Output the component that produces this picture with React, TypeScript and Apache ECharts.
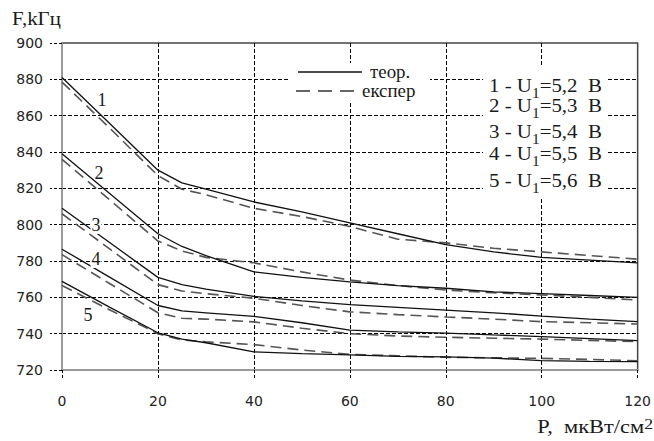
import { useEffect, useRef } from 'react';
import * as echarts from 'echarts';

// Power density, мкВт/см²
const P = [0, 10, 20, 25, 30, 40, 50, 60, 70, 80, 90, 100, 110, 120];

// Frequency, kГц — theoretical (solid) and experimental (dashed)
const theor1 = [881, 855.5, 830, 823, 819.5, 812.5, 807, 801, 795, 789, 785, 782, 780.5, 779];
const exper1 = [878.5, 853, 827, 819.5, 816.5, 809, 804.5, 799, 792, 790, 787, 785, 783, 781];
const theor2 = [839, 817, 795, 788, 783, 774, 771, 768.5, 766.5, 765, 763, 762, 761, 760];
const exper2 = [836, 813.5, 791, 785.5, 782, 779, 774, 769.5, 766.5, 764, 762.5, 761.3, 760, 758.5];
const theor3 = [809, 790, 771, 767, 764.5, 760.5, 758, 756, 754.5, 753, 751.5, 749.7, 748, 746.6];
const exper3 = [806, 786.5, 767, 763.5, 762, 759.5, 755.5, 752, 750.5, 749.2, 748, 746.6, 746, 745.3];
const theor4 = [786.5, 771, 755.5, 752.5, 751.5, 749.5, 746, 742, 741, 740.3, 739.3, 738.4, 737.3, 736.2];
const exper4 = [783.5, 767.5, 751.5, 748.5, 748, 746.5, 743, 740, 738.7, 738, 737.5, 737, 736.3, 735.6];
const theor5 = [768.8, 754.5, 740.5, 737, 735, 730, 729, 728.3, 727.5, 727.2, 726.5, 725.2, 724.8, 724.6];
const exper5 = [766.5, 753, 740, 736.5, 735.5, 734, 731, 728.6, 727.8, 727, 726.7, 726.4, 725.8, 725.1];

const theorSeries = [theor1, theor2, theor3, theor4, theor5];
const experSeries = [exper1, exper2, exper3, exper4, exper5];

const curveNames = ['1', '2', '3', '4', '5'];
const legendLines = ['5,2', '5,3', '5,4', '5,5', '5,6'];

const SERIF = 'Liberation Serif';
const INK = '#1a1a1a';

export default function App() {
  const ref = useRef<HTMLDivElement>(null);

  useEffect(() => {
    document.body.style.margin = '0';
    if (!ref.current) return;
    const chart = echarts.init(ref.current, null, { renderer: 'svg' });

    const series: any[] = [];
    theorSeries.forEach((arr, k) => {
      series.push({
        type: 'line',
        name: 'теор. ' + curveNames[k],
        data: P.map((p, i) => [p, arr[i]]),
        symbol: 'none',
        lineStyle: { color: '#111', width: 1.3, type: 'solid' },
        z: 3,
      });
    });
    experSeries.forEach((arr, k) => {
      series.push({
        type: 'line',
        name: 'експер ' + curveNames[k],
        data: P.map((p, i) => [p, arr[i]]),
        symbol: 'none',
        lineStyle: { color: '#555', width: 1.6, type: [11, 6] },
        z: 2,
      });
    });

    const labelPx = [
      [102, 100],
      [99, 173],
      [96, 225],
      [96, 259],
      [88, 315],
    ];

    const txt = (extra: any) => ({ fontFamily: SERIF, fontSize: 19, fill: INK, ...extra });
    const stretched = (x: number, y: number, sx: number, style: any, z = 101) => ({
      type: 'group', x, y, scaleX: sx, z,
      children: [{ type: 'text', x: 0, y: 0, z, style }],
    });

    const graphic: any[] = [
      // y axis name
      stretched(12, 18, 1.1, txt({ text: 'F,kГц', verticalAlign: 'middle' })),
      // x axis name
      stretched(653, 426, 1.18, txt({
        text: 'P,  мкВт/см{sup|2}',
        align: 'right', verticalAlign: 'middle',
        rich: {
          sup: { fontFamily: SERIF, fontSize: 15, fill: INK, verticalAlign: 'top', lineHeight: 12 },
        },
      })),
      // legend 1 box
      { type: 'rect', shape: { x: 288, y: 63, width: 142, height: 39 }, style: { fill: '#fff' }, z: 100 },
      { type: 'line', shape: { x1: 298, y1: 72, x2: 362, y2: 72 }, style: { stroke: '#111', lineWidth: 1.3 }, z: 101 },
      stretched(370, 72, 1.05, txt({ text: 'теор.', fontSize: 18, verticalAlign: 'middle' })),
      { type: 'line', shape: { x1: 296, y1: 91, x2: 362, y2: 91 }, style: { stroke: '#333', lineWidth: 1.6, lineDash: [14, 8] }, z: 101 },
      stretched(362, 91, 1.05, txt({ text: 'експер', fontSize: 18, verticalAlign: 'middle' })),
      // legend 2 box
      { type: 'rect', shape: { x: 483, y: 67, width: 124, height: 131 }, style: { fill: '#fff' }, z: 100 },
    ];

    const legendY = [85, 105.5, 131, 153, 180];
    legendLines.forEach((v, k) => {
      graphic.push(stretched(489, legendY[k] - 15, 1.1, {
        text: `{m|${curveNames[k]} - U}{s|1}{m|=${v}  В}`,
        fill: INK,
        rich: {
          m: { fontFamily: SERIF, fontSize: 19, fill: INK, lineHeight: 30, verticalAlign: 'middle' },
          s: { fontFamily: SERIF, fontSize: 14, fill: INK, lineHeight: 12, verticalAlign: 'bottom' },
        },
      }));
    });

    labelPx.forEach(([x, y], k) => {
      graphic.push({
        type: 'text', x, y, z: 101,
        style: txt({
          text: curveNames[k], fontSize: 18,
          align: 'center', verticalAlign: 'middle',
          backgroundColor: k === 2 || k === 3 ? '#fff' : 'transparent',
          padding: [0, 1],
        }),
      });
    });

    chart.setOption({
      animation: false,
      backgroundColor: '#fff',
      grid: {
        left: 62, right: 13, top: 43, bottom: 71,
        show: true, borderColor: '#444', borderWidth: 1.5, backgroundColor: 'transparent',
      },
      xAxis: {
        type: 'value', min: 0, max: 120, interval: 20,
        axisLine: { show: true, lineStyle: { color: '#9a9a9a', width: 2 } },
        axisTick: { show: true, length: 8, lineStyle: { color: '#000', type: [3, 2] } },
        axisLabel: { margin: 24, fontFamily: 'DejaVu Sans', fontSize: 14, color: '#222' },
        splitLine: {
          show: true, showMinLine: false, showMaxLine: false,
          lineStyle: { color: '#000', type: [4, 2], width: 1 },
        },
      },
      yAxis: {
        type: 'value', min: 720, max: 900, interval: 20,
        axisLine: { show: true, lineStyle: { color: '#9a9a9a', width: 2 } },
        axisTick: { show: true, length: 12, lineStyle: { color: '#000', type: [3, 2] } },
        axisLabel: { margin: 19, fontFamily: 'DejaVu Sans', fontSize: 14, color: '#222' },
        splitLine: {
          show: true, showMinLine: false, showMaxLine: false,
          lineStyle: { color: '#000', type: [4, 2], width: 1 },
        },
      },
      series,
      graphic,
    });

    return () => chart.dispose();
  }, []);

  return <div ref={ref} style={{ width: 654, height: 441 }} />;
}
